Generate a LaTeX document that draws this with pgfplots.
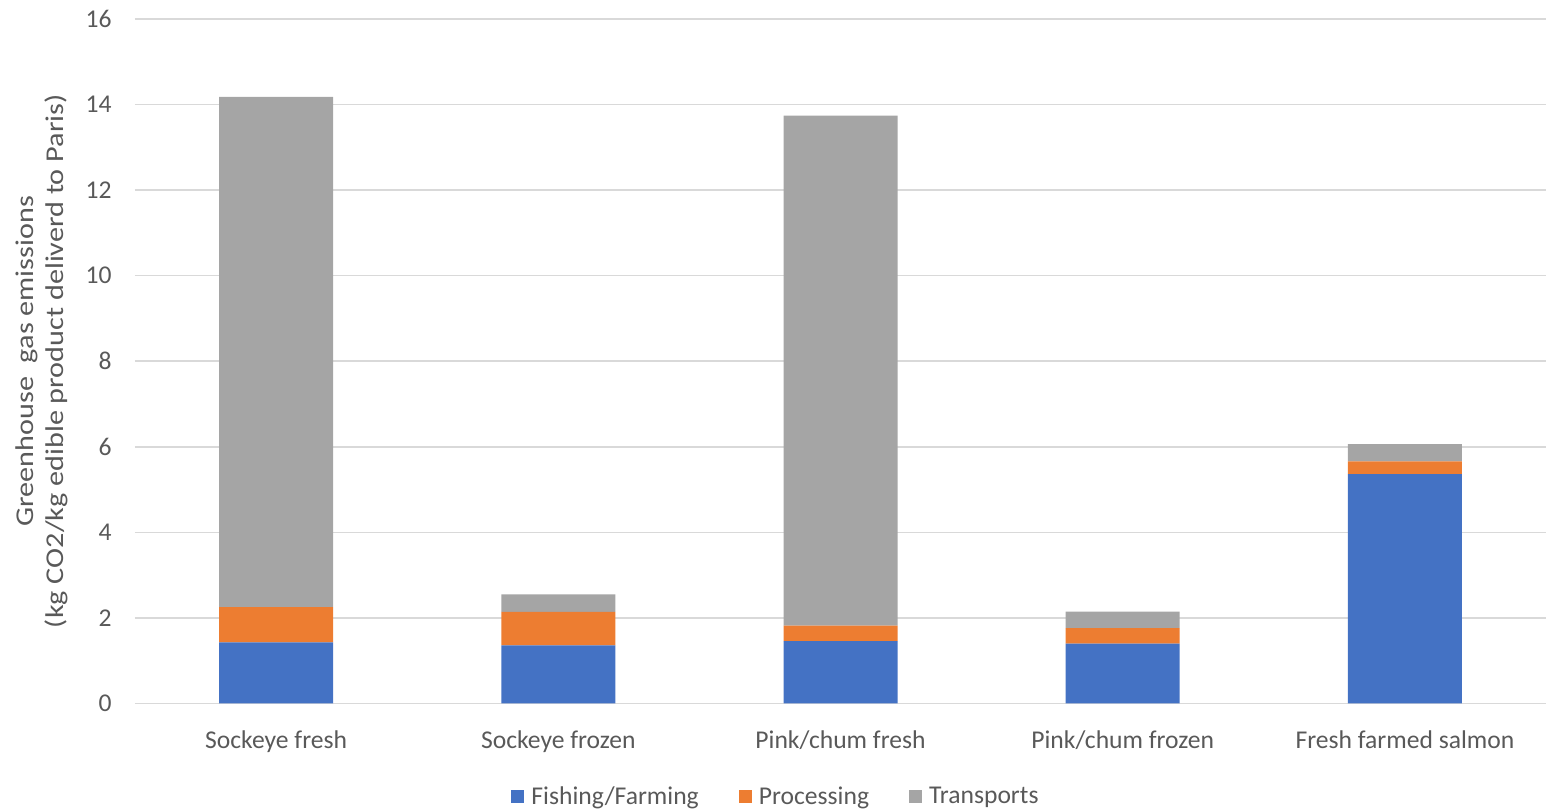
\documentclass[border=0pt]{standalone}
\usepackage{fontspec}
\setmainfont{Carlito}
\newfontfamily\ylabfont[FakeStretch=1.18]{Carlito}
\usepackage{pgfplots}
\pgfplotsset{compat=1.18}
\definecolor{cBlue}{HTML}{4472C4}
\definecolor{cOrange}{HTML}{ED7D31}
\definecolor{cGray}{HTML}{A5A5A5}
\definecolor{cGrid}{HTML}{D9D9D9}
\definecolor{cText}{HTML}{595959}
\begin{document}
\begin{tikzpicture}
\begin{axis}[
  scale only axis,
  width=705.5pt, height=342.25pt,
  ybar stacked, bar width=57pt,
  xmin=-0.5, xmax=4.5, ymin=0, ymax=16,
  xtick=data,
  xticklabels={Sockeye fresh, Sockeye frozen, Pink/chum fresh, Pink/chum frozen, Fresh farmed salmon},
  ytick={0,2,...,16},
  major tick length=0pt,
  axis line style={draw=none},
  ymajorgrids,
  grid style={cGrid, line width=0.75pt},
  font=\fontsize{12.8pt}{15pt}\selectfont,
  every tick label/.append style={text=cText, font=\fontsize{12.8pt}{15pt}\selectfont},
  /pgf/number format/assume math mode=true,
  yticklabel style={anchor=east, inner sep=0pt, xshift=-11.5pt},
  xticklabel style={anchor=north, inner sep=0pt, yshift=-13.5pt},
  ylabel={Greenhouse\ \ gas emissions\\(kg CO2/kg edible product deliverd to Paris)},
  ylabel style={at={(axis description cs:0,0.5)}, anchor=center, yshift=46.5pt, align=center, text=cText, font=\ylabfont\fontsize{12.8pt}{15pt}\selectfont},
  legend columns=3,
  legend style={at={(axis description cs:0.455,0)}, anchor=center, yshift=-46.75pt, draw=none, fill=none, text=cText, font=\fontsize{12.8pt}{15pt}\selectfont, /tikz/every even column/.append style={column sep=18pt}, /tikz/every odd column/.append style={column sep=1.5pt}},
  legend image code/.code={\fill[#1] (0pt,-3.25pt) rectangle (6.5pt,3.25pt);},
]
\addplot[fill=cBlue, draw=none] coordinates {(0,1.43) (1,1.36) (2,1.46) (3,1.40) (4,5.36)};
\addplot[fill=cOrange, draw=none] coordinates {(0,0.82) (1,0.78) (2,0.36) (3,0.36) (4,0.30)};
\addplot[fill=cGray, draw=none] coordinates {(0,11.93) (1,0.41) (2,11.92) (3,0.39) (4,0.40)};
\legend{Fishing/Farming, Processing, Transports}
\coordinate (bl) at (rel axis cs:0,0);
\coordinate (tr) at (rel axis cs:1,1);
\end{axis}
\pgfresetboundingbox
\path ([xshift=-67.5pt,yshift=-53.75pt]bl) rectangle ([yshift=9.5pt]tr);
\end{tikzpicture}
\end{document}
